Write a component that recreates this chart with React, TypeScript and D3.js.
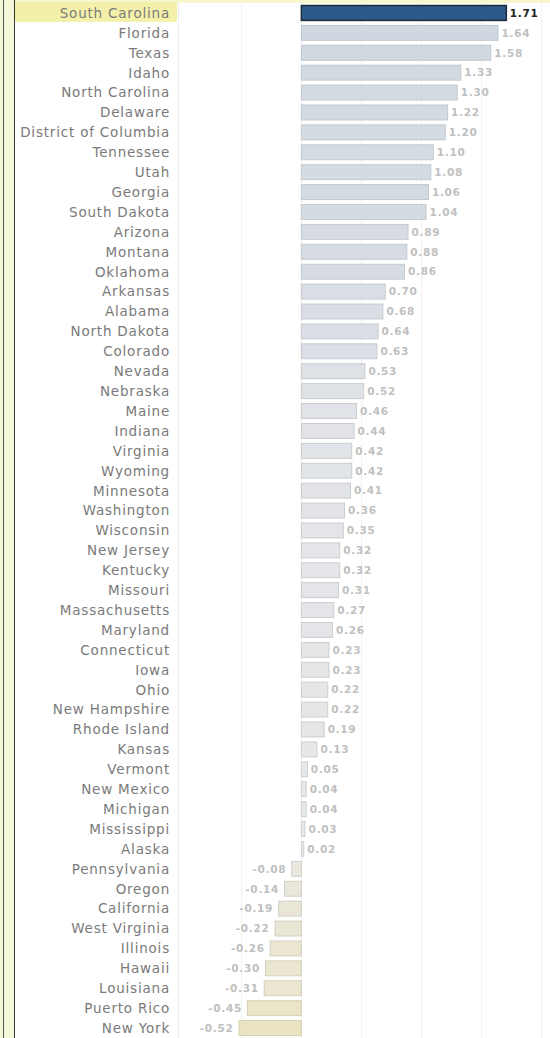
import { useEffect, useRef } from 'react';
import * as d3 from 'd3';

const states = [
    'South Carolina', 'Florida', 'Texas', 'Idaho', 'North Carolina', 'Delaware', 'District of Columbia',
    'Tennessee', 'Utah', 'Georgia', 'South Dakota', 'Arizona', 'Montana', 'Oklahoma', 'Arkansas',
    'Alabama', 'North Dakota', 'Colorado', 'Nevada', 'Nebraska', 'Maine', 'Indiana', 'Virginia',
    'Wyoming', 'Minnesota', 'Washington', 'Wisconsin', 'New Jersey', 'Kentucky', 'Missouri',
    'Massachusetts', 'Maryland', 'Connecticut', 'Iowa', 'Ohio', 'New Hampshire', 'Rhode Island',
    'Kansas', 'Vermont', 'New Mexico', 'Michigan', 'Mississippi', 'Alaska', 'Pennsylvania', 'Oregon',
    'California', 'West Virginia', 'Illinois', 'Hawaii', 'Louisiana', 'Puerto Rico', 'New York',
];

const values = [
    1.71, 1.64, 1.58, 1.33, 1.30, 1.22, 1.20, 1.10, 1.08, 1.06, 1.04, 0.89, 0.88, 0.86, 0.70,
    0.68, 0.64, 0.63, 0.53, 0.52, 0.46, 0.44, 0.42, 0.42, 0.41, 0.36, 0.35, 0.32, 0.32, 0.31,
    0.27, 0.26, 0.23, 0.23, 0.22, 0.22, 0.19, 0.13, 0.05, 0.04, 0.04, 0.03, 0.02, -0.08, -0.14,
    -0.19, -0.22, -0.26, -0.30, -0.31, -0.45, -0.52,
];

const gridTicks = [-0.5, 0, 0.5, 1, 1.5, 2];
const highlighted = 'South Carolina';

export default function App() {
    const svgRef = useRef<SVGSVGElement>(null);

    useEffect(() => {
        if (!svgRef.current) return;
        const W = 550, H = 1038;
        const svg = d3.select(svgRef.current);
        svg.selectAll('*').remove();

        const data = states.map((s, i) => ({ state: s, value: values[i] }));
        const fmt = (v: number) => v.toFixed(2); // hyphen minus like the original

        const x = d3.scaleLinear().domain([-1, 2.07]).range([181, 549]);
        const y = d3.scaleBand().domain(states).range([3, H]).paddingInner(0.2).paddingOuter(0.1);
        const fill = d3.scaleLinear<string>()
            .domain([-0.52, -0.1, 0, 0.4, 0.75, 1.65])
            .range(['#ebe4c3', '#e9e7dc', '#e8e8e8', '#e2e4e8', '#d8dde3', '#cfd8e0']);
        const stroke = d3.scaleLinear<string>()
            .domain([-0.52, 0, 1.65])
            .range(['#d8d2b2', '#cfcfcf', '#bcc6d0']);

        // background & left bands
        svg.append('rect').attr('width', W).attr('height', H).attr('fill', '#fff');
        svg.append('rect').attr('x', 0).attr('y', 0).attr('width', W).attr('height', 3).attr('fill', '#f7f7cf');
        svg.append('rect').attr('x', 0).attr('y', 0).attr('width', 14).attr('height', H).attr('fill', '#f4f8d8');
        svg.append('line').attr('x1', 3.5).attr('x2', 3.5).attr('y1', 0).attr('y2', H).attr('stroke', '#555').attr('stroke-width', 1);
        svg.append('line').attr('x1', 14.5).attr('x2', 14.5).attr('y1', 0).attr('y2', H).attr('stroke', '#333').attr('stroke-width', 1);

        // highlighted row label background
        svg.append('rect')
            .attr('x', 15).attr('y', y(highlighted)! - 3)
            .attr('width', 162).attr('height', y.step())
            .attr('fill', '#f3f1a9');

        // divider & gridlines
        svg.append('line').attr('x1', 178.5).attr('x2', 178.5).attr('y1', 3).attr('y2', H)
            .attr('stroke', '#ececec');
        svg.selectAll('.grid')
            .data(gridTicks)
            .join('line')
            .attr('class', 'grid')
            .attr('x1', d => Math.round(x(d)) + 0.5).attr('x2', d => Math.round(x(d)) + 0.5)
            .attr('y1', 3).attr('y2', H)
            .attr('stroke', '#f0f0f0').attr('stroke-width', 1);

        // bars
        svg.selectAll('.bar')
            .data(data)
            .join('rect')
            .attr('class', 'bar')
            .attr('x', d => Math.min(x(0), x(d.value)) + 0.5)
            .attr('y', d => y(d.state)! + 0.5)
            .attr('width', d => Math.max(1, Math.abs(x(d.value) - x(0))))
            .attr('height', y.bandwidth() - 1)
            .attr('fill', d => d.state === highlighted ? '#2d5b89' : fill(d.value))
            .attr('stroke', d => d.state === highlighted ? '#1d2a38' : stroke(d.value))
            .attr('stroke-width', d => d.state === highlighted ? 1.5 : 1);

        // value labels
        svg.selectAll('.val')
            .data(data)
            .join('text')
            .attr('class', 'val')
            .attr('x', d => d.value >= 0 ? x(d.value) + 4 : x(d.value) - 5)
            .attr('y', d => y(d.state)! + y.bandwidth() / 2)
            .attr('dy', '0.36em')
            .attr('text-anchor', d => d.value >= 0 ? 'start' : 'end')
            .attr('font-family', 'DejaVu Sans, sans-serif')
            .attr('font-weight', 'bold')
            .attr('font-size', 10.5)
            .attr('letter-spacing', 0.7)
            .attr('fill', d => d.state === highlighted ? '#222' : '#c0c0c0')
            .text(d => fmt(d.value));

        // state labels
        svg.selectAll('.lbl')
            .data(data)
            .join('text')
            .attr('class', 'lbl')
            .attr('x', 170)
            .attr('y', d => y(d.state)! + y.bandwidth() / 2)
            .attr('dy', '0.36em')
            .attr('text-anchor', 'end')
            .attr('font-family', 'DejaVu Sans, sans-serif')
            .attr('font-size', 13.5)
            .attr('letter-spacing', 0.8)
            .attr('fill', '#7a7a7a')
            .text(d => d.state);
    }, []);

    return <svg ref={svgRef} width={550} height={1038} style={{ position: 'absolute', left: 0, top: 0 }} />;
}
